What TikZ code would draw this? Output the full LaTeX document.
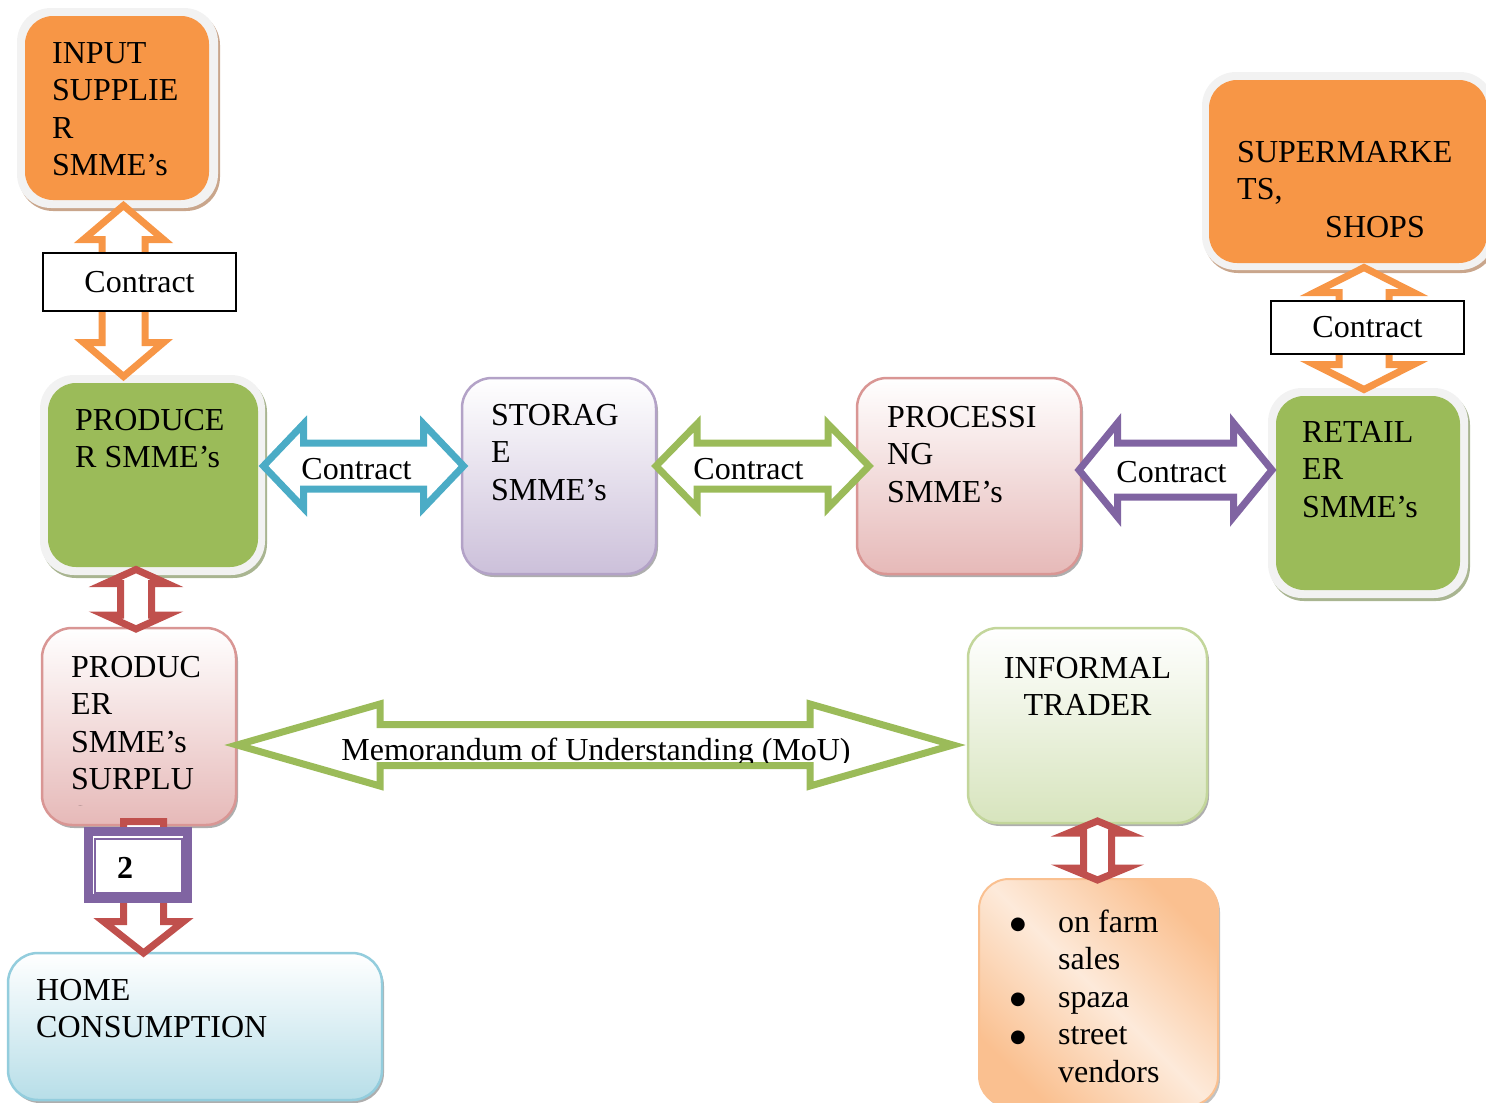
\documentclass[tikz,border=0pt]{standalone}
\usepackage{fontspec}
\setmainfont{Liberation Serif}
\newfontfamily\symfont{DejaVu Sans}
\usetikzlibrary{shadows}

\definecolor{accOrange}{HTML}{F79646}
\definecolor{accGreen}{HTML}{9BBB59}
\definecolor{accCyan}{HTML}{4BACC6}
\definecolor{accPurple}{HTML}{8064A2}
\definecolor{accRed}{HTML}{C0504D}
\definecolor{rimGrey}{HTML}{F2F2F2}
\definecolor{shadowBrown}{HTML}{C9A68C}
\definecolor{shadowGreen}{HTML}{A9B591}
\definecolor{lavEdge}{HTML}{B3A2C7}
\definecolor{lavFill}{HTML}{CCC0DA}
\definecolor{roseEdge}{HTML}{D99694}
\definecolor{roseFill}{HTML}{E6B9B8}
\definecolor{leafEdge}{HTML}{C3D69B}
\definecolor{leafFill}{HTML}{D7E4BD}
\definecolor{skyEdge}{HTML}{93CDDD}
\definecolor{skyFill}{HTML}{B7DEE8}
\definecolor{peachDark}{HTML}{FAC090}
\definecolor{peachLight}{HTML}{FDEADA}

% list bullet
\newcommand{\blt}{\raisebox{2.5pt}{\symfont\fontsize{18}{18}\selectfont ●}}

% Horizontal double block arrow:
% #1 style, #2 left tip x, #3 right tip x, #4 centre y,
% #5 head length, #6 head half height, #7 shaft half height
\newcommand{\HDoubleArrow}[7]{%
  \draw[#1] (#2,#4) -- ({#2+#5},{#4-#6}) -- ({#2+#5},{#4-#7}) -- ({#3-#5},{#4-#7})
    -- ({#3-#5},{#4-#6}) -- (#3,#4) -- ({#3-#5},{#4+#6}) -- ({#3-#5},{#4+#7})
    -- ({#2+#5},{#4+#7}) -- ({#2+#5},{#4+#6}) -- cycle;}
% Vertical double block arrow:
% #1 style, #2 centre x, #3 top tip y, #4 bottom tip y,
% #5 head length, #6 head half width, #7 shaft half width
\newcommand{\VDoubleArrow}[7]{%
  \draw[#1] (#2,#3) -- ({#2+#6},{#3+#5}) -- ({#2+#7},{#3+#5}) -- ({#2+#7},{#4-#5})
    -- ({#2+#6},{#4-#5}) -- (#2,#4) -- ({#2-#6},{#4-#5}) -- ({#2-#7},{#4-#5})
    -- ({#2-#7},{#3+#5}) -- ({#2-#6},{#3+#5}) -- cycle;}

\begin{document}
\begin{tikzpicture}[x=1pt,y=-1pt,
  txt/.style={font=\fontsize{32}{37.5}\selectfont, inner sep=0pt},
  body/.style={txt, align=left, anchor=north west},
  rimbox/.style={rectangle, rounded corners=34pt, fill=rimGrey, inner sep=0pt,
    drop shadow={shadow xshift=2pt, shadow yshift=-3pt, fill=#1, opacity=1}},
  solidbox/.style={rectangle, rounded corners=28pt, fill=#1, inner sep=0pt},
  gradbox/.style 2 args={rectangle, rounded corners=30pt, inner sep=0pt,
    line width=2.5pt, draw=#1, top color=white, bottom color=#2,
    drop shadow={shadow xshift=2pt, shadow yshift=-3pt, fill=black!45, opacity=0.7}},
  blockarrow/.style={draw=#1, line width=7pt, fill=white, line join=miter, miter limit=4},
  flatheads/.style={miter limit=8},
  contractbox/.style={txt, draw=black, line width=1.5pt, fill=white,
    minimum width=193pt, outer sep=0pt},
]
\useasboundingbox (0,0) rectangle (1486,1103);
\clip (0,0) rectangle (1486,1103);

% ---------- boxes ----------
% input suppliers
\node[rimbox=shadowBrown, minimum width=201pt, minimum height=200pt] (inputrim) at (117.5,108) {};
\node[solidbox=accOrange, minimum width=184pt, minimum height=184pt] (input) at (117,108) {};
\node[body] (inputtxt) at (52,36.75) {\strut INPUT\\SUPPLIE\\R\\SMME’s};

% supermarkets and shops
\node[rimbox=shadowBrown, minimum width=292pt, minimum height=198pt] (superrim) at (1348,171) {};
\node[solidbox=accOrange, minimum width=278pt, minimum height=183pt] (super) at (1348,171.5) {};
\node[body] (supertxt) at (1237,135.75) {\strut SUPERMARKE\\TS,\\\hspace*{88pt}SHOPS};

% producers
\node[rimbox=shadowGreen, minimum width=225pt, minimum height=200pt] (producerrim) at (152.5,475) {};
\node[solidbox=accGreen, minimum width=210pt, minimum height=184pt] (producer) at (153,475) {};
\node[body] (producertxt) at (75,403.75) {\strut PRODUCE\\R SMME’s};

% storage
\node[gradbox={lavEdge}{lavFill}, minimum width=194pt, minimum height=196pt] (storage) at (559,476) {};
\node[body] (storagetxt) at (491,398.75) {\strut STORAG\\E\\SMME’s};

% processing
\node[gradbox={roseEdge}{roseFill}, minimum width=224pt, minimum height=196pt] (processing) at (969,476) {};
\node[body] (processingtxt) at (887,400.75) {\strut PROCESSI\\NG\\SMME’s};

% retailers
\node[rimbox=shadowGreen, minimum width=200pt, minimum height=210pt] (retailrim) at (1368,493) {};
\node[solidbox=accGreen, minimum width=184pt, minimum height=194pt] (retail) at (1368,493) {};
\node[body] (retailtxt) at (1302,415.75) {\strut RETAIL\\ER\\SMME’s};

% producers' surplus
\node[gradbox={roseEdge}{roseFill}, minimum width=194pt, minimum height=197pt] (surplus) at (139,726.5) {};
\begin{scope}
  \clip (40,630) rectangle (240,805);
  \node[body] (surplustxt) at (71,650.75) {\strut PRODUC\\ER\\SMME’s\\SURPLU\\S};
\end{scope}

% informal trader
\node[gradbox={leafEdge}{leafFill}, minimum width=239pt, minimum height=195pt] (informal) at (1087.5,725.5) {};
\node[txt, align=center, anchor=north] (informaltxt) at (1087.5,651.75) {\strut INFORMAL\\TRADER};

% informal outlets
\node[rectangle, rounded corners=30pt, inner sep=0pt, line width=2pt, draw=peachDark,
      top color=peachDark, bottom color=peachDark, middle color=peachLight, shading angle=-45,
      drop shadow={shadow xshift=2pt, shadow yshift=-3pt, fill=black!40, opacity=0.6},
      minimum width=239pt, minimum height=227pt] (outlets) at (1098.5,992.5) {};
\node[body] (outletstxt) at (1010,905.75)
  {\strut\makebox[48pt][l]{\blt}on farm\\\hspace*{48pt}sales\\\makebox[48pt][l]{\blt}spaza\\%
   \makebox[48pt][l]{\blt}street\\\hspace*{48pt}vendors};

% home consumption
\node[gradbox={skyEdge}{skyFill}, minimum width=374pt, minimum height=147pt] (home) at (195,1026.5) {};
\node[body] (hometxt) at (36,973.75) {\strut HOME\\CONSUMPTION};

% ---------- block arrows ----------
\VDoubleArrow{blockarrow=accOrange}{123.5}{205.5}{376.5}{34}{40}{21.5}
\node[contractbox, minimum height=58pt] (contractA) at (139.5,282) {Contract};

\VDoubleArrow{blockarrow=accOrange, flatheads}{1364}{267.5}{389.5}{25}{49.5}{25}
\node[contractbox, minimum height=53pt] (contractB) at (1367.5,327.5) {Contract};

\HDoubleArrow{blockarrow=accCyan}{263.5}{463.5}{466}{40}{42}{23}
\node[txt, anchor=base] (contractC) at (356.5,479) {Contract};

\HDoubleArrow{blockarrow=accGreen}{656}{869}{466}{41}{42}{23}
\node[txt, anchor=base] (contractD) at (748.5,479) {Contract};

\HDoubleArrow{blockarrow=accPurple}{1079}{1272}{470}{38.5}{47}{27}
\node[txt, anchor=base] (contractE) at (1171.5,482) {Contract};

\HDoubleArrow{blockarrow=accGreen}{237}{953}{745}{143}{41}{20.5}
\begin{scope}
  \clip (300,700) rectangle (900,762);
  \node[txt, anchor=base] (moutxt) at (596,760) {Memorandum of Understanding (MoU)};
\end{scope}

\VDoubleArrow{blockarrow=accRed, flatheads}{136}{569.5}{629}{14}{31}{15.5}
\VDoubleArrow{blockarrow=accRed, flatheads}{1097.5}{821}{880}{12}{29}{14}

% surplus to home consumption
\draw[blockarrow=accRed] (123.5,821.5) -- (163.5,821.5) -- (163.5,921.5) -- (183.5,921.5)
  -- (143.5,953) -- (103.5,921.5) -- (123.5,921.5) -- cycle;
\node[draw=accPurple, line width=9pt, fill=white, minimum width=99pt, minimum height=67pt,
      inner sep=0pt, outer sep=0pt] (two) at (138,865) {};
\draw[accPurple, line width=1.5pt] ([shift={(6.5,7.5)}]two.north west) rectangle ([shift={(-5.5,-5.5)}]two.south east);
\node[txt, font=\fontsize{32}{37.5}\selectfont\bfseries, anchor=base west] (twotxt) at (117,878) {2};

\end{tikzpicture}
\end{document}
